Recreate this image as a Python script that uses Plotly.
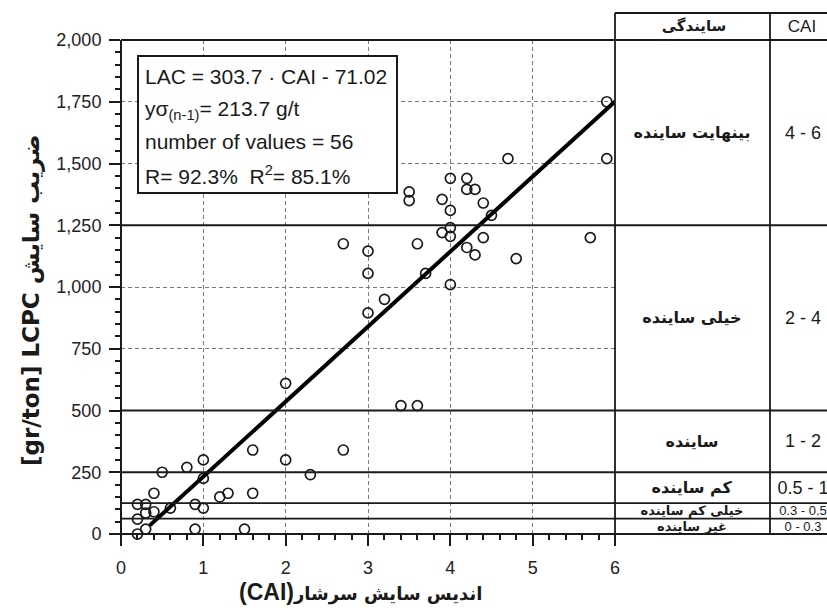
import plotly.graph_objects as go

# ---------------- data ----------------
cai = [0.2, 0.2, 0.2, 0.3, 0.3, 0.3, 0.4, 0.4, 0.5, 0.6,
       0.8, 0.9, 0.9, 1.0, 1.0, 1.0, 1.2, 1.3, 1.5, 1.6,
       1.6, 2.0, 2.0, 2.3, 2.7, 2.7, 3.0, 3.0, 3.0, 3.2,
       3.4, 3.6, 3.5, 3.5, 3.6, 3.7, 3.9, 3.9, 4.0, 4.0,
       4.0, 4.0, 4.0, 4.2, 4.2, 4.2, 4.3, 4.3, 4.4, 4.4,
       4.5, 4.7, 4.8, 5.7, 5.9, 5.9]
lac = [0, 60, 120, 20, 85, 120, 90, 165, 250, 105,
       270, 20, 120, 105, 225, 300, 150, 165, 20, 165,
       340, 300, 610, 240, 340, 1175, 895, 1055, 1145, 950,
       520, 520, 1350, 1385, 1175, 1055, 1220, 1355, 1010, 1205,
       1240, 1310, 1440, 1160, 1395, 1440, 1130, 1395, 1200, 1340,
       1290, 1520, 1115, 1200, 1520, 1750]

fit_x = [0.35, 6.0]
fit_y = [35, 1751]

x_ticks = [0, 1, 2, 3, 4, 5, 6]
y_ticks = [0, 250, 500, 750, 1000, 1250, 1500, 1750, 2000]

class_bounds = [0, 62.5, 125, 250, 500, 1250, 2000]
class_names = ["غیر ساینده", "خیلی کم ساینده", "کم ساینده", "ساینده", "خیلی ساینده", "بینهایت ساینده"]
class_cai = ["0 - 0.3", "0.3 - 0.5", "0.5 - 1", "1 - 2", "2 - 4", "4 - 6"]
header_name = "سایندگی"
header_cai = "CAI"

stats_lines = ["LAC = 303.7 · CAI - 71.02",
               "yσ<sub>(n-1)</sub>= 213.7 g/t",
               "number of values = 56",
               "R= 92.3%  R<sup>2</sup>= 85.1%"]

x_title_latin = "(CAI)"
x_title_fa = "اندیس سایش سرشار"
y_title = "[gr/ton] LCPC ضریب سایش"

# ---------------- layout geometry ----------------
W, H = 827, 612
L, R, T, B = 121, 615, 40, 534
PW, PH = R - L, B - T
XMAX, YMAX = 6.0, 2000.0


def xp(px):
    return (px - L) / PW


def yp(py):
    return (B - py) / PH


FONT = "Liberation Sans, Arial, DejaVu Sans"
AR_FONT = "DejaVu Sans, Liberation Sans"
INK = "#1a1a1a"

fig = go.Figure()

fig.add_trace(go.Scatter(
    x=cai, y=lac, mode="markers", cliponaxis=False,
    marker=dict(symbol="circle-open", size=10, color=INK, line=dict(width=1.7, color=INK)),
    showlegend=False, hoverinfo="skip"))

fig.add_trace(go.Scatter(
    x=fit_x, y=fit_y, mode="lines", cliponaxis=False,
    line=dict(color="black", width=4), showlegend=False, hoverinfo="skip"))

shapes = []
right_edge = xp(W + 40)
header_top = yp(13)
for v in class_bounds:
    shapes.append(dict(type="line", xref="paper", yref="paper",
                       x0=xp(L), x1=right_edge, y0=v / YMAX, y1=v / YMAX,
                       line=dict(color=INK, width=1.8), layer="above"))
shapes.append(dict(type="line", xref="paper", yref="paper",
                   x0=1, x1=right_edge, y0=header_top, y1=header_top,
                   line=dict(color=INK, width=1.8), layer="above"))
for xx in [1.0, xp(770)]:
    shapes.append(dict(type="line", xref="paper", yref="paper",
                       x0=xx, x1=xx, y0=0, y1=header_top,
                       line=dict(color=INK, width=1.8), layer="above"))
shapes.append(dict(type="line", xref="paper", yref="paper",
                   x0=0, x1=0, y0=yp(545), y1=1,
                   line=dict(color=INK, width=2), layer="above"))
shapes.append(dict(type="rect", xref="paper", yref="paper",
                   x0=xp(138), x1=xp(397), y0=yp(193), y1=yp(56),
                   line=dict(color=INK, width=2), fillcolor="white", layer="above"))

annotations = []
for txt, py in zip(stats_lines, [76, 110, 142, 175]):
    annotations.append(dict(xref="paper", yref="paper", x=xp(143), y=yp(py),
                            xanchor="left", yanchor="middle", text=txt, showarrow=False,
                            font=dict(family=FONT, size=21, color=INK)))

# table text: fixed-width boxes so the browser centres the text
name_x = xp(692)
cai_x = xp(803)
for i, (nm, cv) in enumerate(zip(class_names, class_cai)):
    mid = (class_bounds[i] + class_bounds[i + 1]) / 2
    small = i < 2
    annotations.append(dict(xref="paper", yref="y", x=name_x, y=mid, text="<b>" + nm + "</b>",
                            showarrow=False, xanchor="center", yanchor="middle",
                            width=150, align="center",
                            font=dict(family=AR_FONT, size=13 if small else 16, color=INK)))
    annotations.append(dict(xref="paper", yref="y", x=cai_x, y=mid, text=cv,
                            showarrow=False, xanchor="center", yanchor="middle",
                            width=64, align="center",
                            font=dict(family=FONT, size=13 if small else 18, color=INK)))
annotations.append(dict(xref="paper", yref="paper", x=xp(694), y=yp(26), text="<b>" + header_name + "</b>",
                        showarrow=False, xanchor="center", yanchor="middle", width=150, align="center",
                        font=dict(family=AR_FONT, size=15, color=INK)))
annotations.append(dict(xref="paper", yref="paper", x=xp(802), y=yp(27), text=header_cai,
                        showarrow=False, xanchor="center", yanchor="middle", width=64, align="center",
                        font=dict(family=FONT, size=17, color=INK)))

# axis titles
x_title = ("<b><span style='font-family:Liberation Sans;font-size:23px'>" + x_title_latin +
           "</span>" + x_title_fa + "</b>")
annotations.append(dict(xref="paper", yref="paper", x=xp(360), y=yp(592), text=x_title,
                        showarrow=False, xanchor="center", yanchor="middle",
                        font=dict(family=AR_FONT, size=18, color=INK)))
annotations.append(dict(xref="paper", yref="paper", x=xp(31), y=yp(300), text="<b>" + y_title + "</b>",
                        showarrow=False, xanchor="center", yanchor="middle", textangle=-90,
                        font=dict(family=AR_FONT, size=23, color=INK)))

fig.update_layout(
    width=W, height=H,
    margin=dict(l=L, r=W - R, t=T, b=H - B, pad=0),
    paper_bgcolor="white", plot_bgcolor="white",
    shapes=shapes, annotations=annotations,
    xaxis=dict(range=[0, XMAX], tickvals=x_ticks, ticks="outside", ticklen=11, tickwidth=1.5,
               tickcolor=INK, showline=False, zeroline=False, ticklabelstandoff=6,
               showgrid=True, gridcolor="#7a7a7a", gridwidth=1, griddash="4px,3px",
               minor=dict(dtick=0.2, ticks="outside", ticklen=5, tickcolor=INK, showgrid=False),
               tickfont=dict(family=FONT, size=18, color="#222")),
    yaxis=dict(range=[0, YMAX], tickvals=y_ticks, tickformat=",", ticks="outside", ticklen=11,
               tickwidth=1.5, tickcolor=INK, showline=False, zeroline=False, ticklabelstandoff=4,
               showgrid=True, gridcolor="#7a7a7a", gridwidth=1, griddash="4px,3px",
               minor=dict(dtick=50, ticks="outside", ticklen=5, tickcolor=INK, showgrid=False),
               tickfont=dict(family=FONT, size=18, color="#222")),
)

fig.write_html("out.html", config={"displayModeBar": False},
               post_script="document.body.style.margin='0';document.body.style.padding='0';")
